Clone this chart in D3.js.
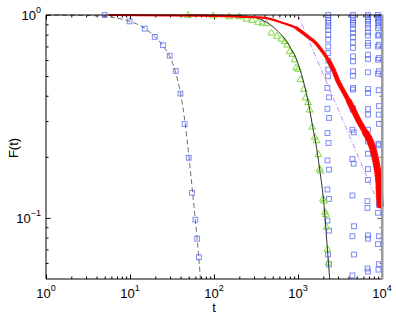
<!DOCTYPE html>
<html>
<head>
<meta charset="utf-8">
<script src="https://cdn.jsdelivr.net/npm/d3@7"></script>
<style>
body { margin: 0; background: #fff; }
text { font-family: "Liberation Sans", Arial, sans-serif; fill: #000; }
</style>
</head>
<body>
<div id="chart"></div>
<script>
// fast decay: squares + dashed fit
var fastSq_t = [5.0, 9.9, 15, 19.7, 24.7, 29.7, 35, 39.8, 44.7, 50, 54.7, 60, 63, 66];
var fastSq_F = [1.0, 0.93, 0.856, 0.78, 0.71, 0.63, 0.53, 0.41, 0.29, 0.198, 0.133, 0.098, 0.079, 0.064];
var dashFit_t = [1, 3, 6, 10, 15, 20, 25, 30, 35, 40, 45, 50, 55, 60, 65, 69];
var dashFit_F = [1.0, 0.995, 0.975, 0.93, 0.86, 0.78, 0.70, 0.62, 0.52, 0.41, 0.30, 0.205, 0.14, 0.097, 0.068, 0.05];

// green triangles + solid fit
var tri_t = [49, 98, 152, 200, 243, 286, 334, 377, 421, 482, 563, 634, 694, 741, 795, 858, 912, 955, 1000, 1070,
             1175, 1230, 1318, 1380, 1480, 1585, 1660, 1750, 1813, 1860, 1985, 2040, 2096, 2134, 2180, 2240, 2300];
var tri_F = [0.995, 0.99, 0.98, 0.98, 0.955, 0.94, 0.92, 0.91, 0.905, 0.815, 0.785, 0.76, 0.74, 0.71, 0.66, 0.64, 0.60, 0.55, 0.54, 0.48,
             0.43, 0.39, 0.37, 0.34, 0.28, 0.25, 0.24, 0.205, 0.174, 0.17, 0.124, 0.121, 0.107, 0.104, 0.090, 0.070, 0.060];
var solidFit_t = [50, 150, 267, 383, 553, 797, 992, 1147, 1341, 1517, 1625, 1813, 2040, 2197, 2385];
var solidFit_F = [1.0, 0.997, 0.984, 0.94, 0.846, 0.70, 0.582, 0.48, 0.362, 0.272, 0.235, 0.173, 0.116, 0.078, 0.050];

// red noisy curve
var red_t = [5.7, 67.6, 167, 305, 421, 663, 957, 1377, 1625, 1950, 2340, 2684, 2944, 3378, 4050, 4645, 5325, 6400, 7335, 8030, 8815, 9210, 9340, 9520];
var red_F = [1.0, 0.992, 0.984, 0.975, 0.966, 0.913, 0.863, 0.77, 0.728, 0.662, 0.591, 0.528, 0.48, 0.43, 0.375, 0.335, 0.299, 0.262, 0.236, 0.209, 0.173, 0.149, 0.130, 0.116];

// power law guide
var power_t = [1000, 8960];
var power_F = [1.0, 0.1186];

// blue square columns
var colA_t = [2290, 2290, 2290, 2290, 2290, 2290, 2290, 2290, 2290, 2290, 2290, 2290, 2280, 2240, 2340, 2240, 2340, 2240, 2305, 2240, 2340, 2240, 2340, 2240, 2340, 2280, 2340];
var colA_F = [1.0, 0.966, 0.94, 0.913, 0.879, 0.846, 0.80, 0.756, 0.70, 0.65, 0.597, 0.538, 0.499, 0.437, 0.393, 0.345, 0.311, 0.262, 0.234, 0.192, 0.173, 0.138, 0.124, 0.097, 0.0866, 0.066, 0.059];
var colB_t = [4517, 4517, 4517, 4517, 4517, 4517, 4517, 4517, 4517, 4517, 4517, 4517, 4517, 4517, 4517, 4517, 4480, 4517, 4442, 4605, 4442, 4605, 4442, 4645, 4442, 4645, 4442];
var colB_F = [1.0, 0.966, 0.94, 0.919, 0.896, 0.853, 0.815, 0.779, 0.733, 0.688, 0.625, 0.591, 0.528, 0.502, 0.437, 0.429, 0.348, 0.342, 0.272, 0.264, 0.195, 0.185, 0.129, 0.091, 0.0812, 0.066, 0.0521];
var colC_t = [6810, 6810, 6810, 6810, 6810, 6810, 6810, 6810, 6810, 6810, 6810, 6810, 6810, 6810, 6810, 6810, 6810, 6810, 6810, 6810, 6810, 6810, 6710, 6710, 6810, 6810, 6710, 6810];
var colC_F = [1.0, 0.977, 0.956, 0.930, 0.896, 0.863, 0.821, 0.791, 0.728, 0.706, 0.637, 0.607, 0.522, 0.432, 0.413, 0.344, 0.323, 0.272, 0.238, 0.207, 0.174, 0.154, 0.121, 0.112, 0.082, 0.079, 0.0563, 0.0544];
var colD_t = [8960, 9210, 8960, 9210, 8960, 9210, 8960, 9210, 8960, 9210, 8960, 9210, 8960, 9210, 8960,
              9140, 9210, 9140, 9210, 9060, 9140, 9210, 9060, 9210, 8960, 9210, 8960, 9210, 9060];
var colD_F = [1.0, 0.977, 0.959, 0.94, 0.919, 0.886, 0.863, 0.80, 0.791, 0.714, 0.70, 0.614, 0.602, 0.528, 0.514,
              0.426, 0.356, 0.323, 0.291, 0.232, 0.228, 0.165, 0.158, 0.116, 0.106, 0.0812, 0.0743, 0.0592, 0.0556];

var xMajor = [1, 10, 100, 1000, 10000];
var xExp = ["0", "1", "2", "3", "4"];
var yMajor = [0.1, 1];
var yExp = ["\u22121", "0"];

function pairs(ts, fs) {
    return ts.map(function(t, i){ return [t, fs[i]]; });
}

function init(){

    var w = 396;
    var h = 316;
    var left = 46, top = 15, right = 382, bottom = 279;

    var xScale = d3.scaleLog()
                    .domain([1, 10000])
                    .range([left, right]);
    var yScale = d3.scaleLog()
                    .domain([0.05, 1])
                    .range([bottom, top]);

    var svg = d3.select("#chart")
                .append("svg")
                .attr("width", w)
                .attr("height", h);

    // minor tick values
    var xMinor = [];
    for (var d = 0; d < 4; d++) {
        for (var k = 2; k < 10; k++) xMinor.push(k * Math.pow(10, d));
    }
    var yMinor = [0.06, 0.07, 0.08, 0.09, 0.2, 0.3, 0.4, 0.5, 0.6, 0.7, 0.8, 0.9];

    function ticks(axis, vals, size, tr, col) {
        var g = svg.append("g")
            .attr("transform", tr)
            .call(axis.tickValues(vals).tickSize(size).tickSizeOuter(0).tickFormat(""));
        g.select(".domain").remove();
        g.selectAll("line").attr("stroke", col || "#000");
    }

    ticks(d3.axisBottom(xScale), xMinor, -2.5, "translate(0," + bottom + ")");
    ticks(d3.axisBottom(xScale), xMajor, -4.5, "translate(0," + bottom + ")");
    ticks(d3.axisTop(xScale), xMinor, -2.5, "translate(0," + top + ")");
    ticks(d3.axisTop(xScale), xMajor, -4.5, "translate(0," + top + ")");
    ticks(d3.axisLeft(yScale), yMinor, -2.5, "translate(" + left + ",0)");
    ticks(d3.axisLeft(yScale), yMajor, -4.5, "translate(" + left + ",0)");
    ticks(d3.axisRight(yScale), yMinor, -2.5, "translate(" + right + ",0)", "#555");
    ticks(d3.axisRight(yScale), yMajor, -4.5, "translate(" + right + ",0)", "#555");

    var line = d3.line()
        .x(function(d){ return xScale(d[0]); })
        .y(function(d){ return yScale(d[1]); });

    var smooth = d3.line()
        .x(function(d){ return xScale(d[0]); })
        .y(function(d){ return yScale(d[1]); })
        .curve(d3.curveMonotoneX);

    var plot = svg.append("g");

    // dashed fit
    plot.append("path")
        .attr("d", smooth(pairs(dashFit_t, dashFit_F)))
        .attr("fill", "none")
        .attr("stroke", "#6e6e6e")
        .attr("stroke-width", 1)
        .attr("stroke-dasharray", "5,3");

    // blue squares
    var sqData = pairs(fastSq_t, fastSq_F)
        .concat(pairs(colA_t, colA_F))
        .concat(pairs(colB_t, colB_F))
        .concat(pairs(colC_t, colC_F))
        .concat(pairs(colD_t, colD_F));

    plot.selectAll("rect.sq")
        .data(sqData)
        .enter()
        .append("rect")
        .attr("class", "sq")
        .attr("x", function(d){ return xScale(d[0]) - 2.4; })
        .attr("y", function(d){ return yScale(d[1]) - 2.4; })
        .attr("width", 4.8)
        .attr("height", 4.8)
        .attr("fill", "none")
        .attr("stroke", "#4f63f2")
        .attr("stroke-opacity", 0.75)
        .attr("stroke-width", 1);

    // green triangles
    var triSym = d3.symbol().type(d3.symbolTriangle).size(20);
    plot.selectAll("path.tri")
        .data(pairs(tri_t, tri_F))
        .enter()
        .append("path")
        .attr("class", "tri")
        .attr("d", triSym)
        .attr("transform", function(d){ return "translate(" + xScale(d[0]) + "," + yScale(d[1]) + ")"; })
        .attr("fill", "none")
        .attr("stroke", "#7fdc3c")
        .attr("stroke-width", 1);

    // solid fit
    plot.append("path")
        .attr("d", smooth(pairs(solidFit_t, solidFit_F)))
        .attr("fill", "none")
        .attr("stroke", "#333")
        .attr("stroke-width", 1);

    // power law guide
    plot.append("path")
        .attr("d", line(pairs(power_t, power_F)))
        .attr("fill", "none")
        .attr("stroke", "#c688ee")
        .attr("stroke-width", 1)
        .attr("stroke-dasharray", "5,2,1,2");

    // red curve, thicker where it gets noisy
    var redData = pairs(red_t, red_F);
    var redBands = [[0, 2.2, 1], [900, 3.5, 0.9], [2000, 4.8, 0.85], [3800, 6, 0.85], [6000, 7.2, 0.85]];
    redBands.forEach(function(b){
        plot.append("path")
            .attr("d", smooth(redData.filter(function(d){ return d[0] >= b[0]; })))
            .attr("fill", "none")
            .attr("stroke", "#ff0000")
            .attr("stroke-opacity", b[2])
            .attr("stroke-linecap", "round")
            .attr("stroke-width", b[1]);
    });

    // frame
    svg.append("line").attr("x1", left).attr("x2", right).attr("y1", top).attr("y2", top).attr("stroke", "#000");
    svg.append("line").attr("x1", left).attr("x2", right).attr("y1", bottom).attr("y2", bottom).attr("stroke", "#000");
    svg.append("line").attr("x1", left).attr("x2", left).attr("y1", top).attr("y2", bottom).attr("stroke", "#000");
    svg.append("rect")
        .attr("x", right - 1)
        .attr("y", top - 0.5)
        .attr("width", 2.5)
        .attr("height", bottom - top + 1)
        .attr("fill", "#9a9a9a");

    // tick labels
    xMajor.forEach(function(v, i){
        var t = svg.append("text")
            .attr("x", xScale(v))
            .attr("y", 298)
            .attr("text-anchor", "middle")
            .style("font-size", "13px");
        t.append("tspan").text("10");
        t.append("tspan").attr("dy", -7).style("font-size", "9px").text(xExp[i]);
    });

    yMajor.forEach(function(v, i){
        var t = svg.append("text")
            .attr("x", 41)
            .attr("y", yScale(v) + 5)
            .attr("text-anchor", "end")
            .style("font-size", "13px");
        t.append("tspan").text("10");
        t.append("tspan").attr("dy", -7).style("font-size", "9px").text(yExp[i]);
    });

    svg.append("text")
        .attr("x", 214)
        .attr("y", 312)
        .attr("text-anchor", "middle")
        .style("font-size", "13px")
        .text("t");

    svg.append("text")
        .attr("transform", "translate(18,148) rotate(-90)")
        .attr("text-anchor", "middle")
        .style("font-size", "13px")
        .text("F(t)");
}
window.onload = init;
</script>
</body>
</html>
